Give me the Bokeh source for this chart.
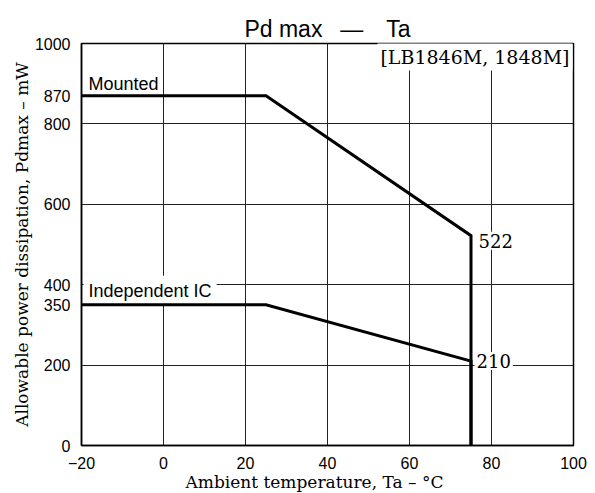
from bokeh.plotting import figure
from bokeh.models import Range1d, FixedTicker, Label, Title
from bokeh.embed import file_html
from bokeh.resources import INLINE

# Data
temp_mounted = [-20, 25, 75, 75]
pd_mounted = [870, 870, 522, 0]
temp_ic = [-20, 25, 75, 75]
pd_ic = [350, 350, 210, 0]

x_ticks = [-20, 0, 20, 40, 60, 80, 100]
y_ticks = [0, 200, 350, 400, 600, 800, 870, 1000]
x_grid = [0, 20, 40, 60, 80]
y_grid = [200, 400, 600, 800]

title_text = "Pd max \u2002\u2014\u2002\u2002Ta"
x_label = "Ambient temperature, Ta \u2013 \u00b0C"
y_label = "Allowable power dissipation, Pdmax \u2013 mW"
series_names = ["Mounted", "Independent IC"]
model_text = "[LB1846M, 1848M]"

p = figure(width=595, height=493, output_backend="svg", toolbar_location=None,
           x_range=Range1d(-20, 100), y_range=Range1d(0, 1000),
           min_border_left=81, min_border_right=22, min_border_top=43, min_border_bottom=46)
p.background_fill_color = "white"
p.border_fill_color = "white"
p.outline_line_color = "black"
p.outline_line_width = 1.5

p.title.text = title_text
p.title.text_font = "Liberation Sans"
p.title.text_font_size = "23px"
p.title.text_font_style = "normal"
p.title.text_color = "black"
p.title.align = "center"
p.title.standoff = 3

p.xaxis.ticker = FixedTicker(ticks=x_ticks)
p.yaxis.ticker = FixedTicker(ticks=y_ticks)
p.xgrid.ticker = FixedTicker(ticks=x_grid)
p.ygrid.ticker = FixedTicker(ticks=y_grid)
for g in (p.xgrid, p.ygrid):
    g.grid_line_color = "#222222"
    g.grid_line_width = 1
    g.grid_line_alpha = 1.0

for ax in (p.xaxis, p.yaxis):
    ax.axis_line_color = "black"
    ax.axis_line_width = 1.5
    ax.major_tick_line_color = None
    ax.minor_tick_line_color = None
    ax.major_label_text_font = "Liberation Sans"
    ax.major_label_text_font_size = "16px"
    ax.major_label_text_color = "black"
    ax.major_label_standoff = 5

p.yaxis.axis_label = y_label
p.yaxis.axis_label_text_font = "DejaVu Serif"
p.yaxis.axis_label_text_font_size = "17px"
p.yaxis.axis_label_text_font_style = "normal"
p.yaxis.axis_label_text_color = "black"
p.yaxis.axis_label_standoff = 0

xt = Title(text=x_label, align="left", offset=104, standoff=0, vertical_align="top",
           text_font="DejaVu Serif", text_font_size="17px", text_font_style="normal",
           text_color="black")
p.add_layout(xt, "below")

def lab(**kw):
    l = Label(text_color="black", level="underlay", **kw)
    p.add_layout(l)
    return l

# Series labels
lab(x=temp_mounted[0], y=pd_mounted[0], text=series_names[0], x_offset=3, y_offset=12,
    text_font="Liberation Sans", text_font_size="18px", text_baseline="alphabetic",
    background_fill_color="white", padding=4)
lab(x=temp_ic[0], y=pd_ic[0], text=series_names[1], x_offset=2, y_offset=14,
    text_font="Liberation Sans", text_font_size="18px", text_baseline="alphabetic",
    background_fill_color="white", padding=5)

# End values
lab(x=temp_mounted[2], y=pd_mounted[2], text=str(pd_mounted[2]), x_offset=5.5, y_offset=-5,
    text_font="DejaVu Serif", text_font_size="18px", text_baseline="middle",
    background_fill_color="white", padding=2)
lab(x=temp_ic[2], y=pd_ic[2], text=str(pd_ic[2]), x_offset=3.5, y_offset=0,
    text_font="DejaVu Serif", text_font_size="18px", text_baseline="middle",
    background_fill_color="white", padding=2)

# Model text top-right
lab(x=100, y=1000, text=model_text, x_offset=-1, y_offset=1,
    text_font="DejaVu Serif", text_font_size="19px", text_baseline="top", text_align="right",
    background_fill_color="white", padding=3)

p.line(temp_mounted, pd_mounted, line_color="black", line_width=3, line_join="miter")
p.line(temp_ic, pd_ic, line_color="black", line_width=3, line_join="miter")

open("out.html", "w").write(file_html(p, INLINE))
